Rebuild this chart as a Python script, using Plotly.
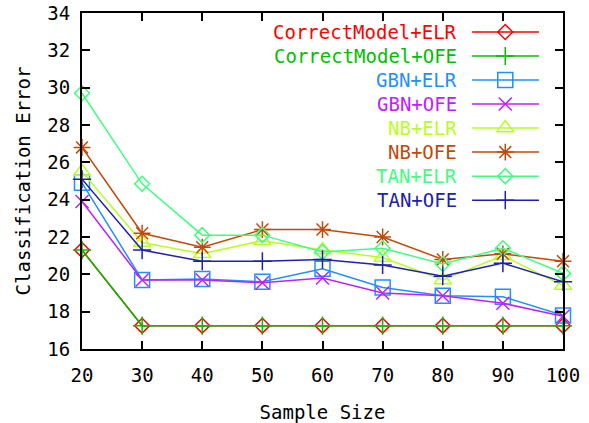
import plotly.graph_objects as go

sample_size = [20, 30, 40, 50, 60, 70, 80, 90, 100]

correct_elr = [21.3, 17.25, 17.25, 17.25, 17.25, 17.25, 17.25, 17.25, 17.25]
correct_ofe = [21.3, 17.25, 17.25, 17.25, 17.25, 17.25, 17.25, 17.25, 17.25]
gbn_elr = [24.9, 19.7, 19.75, 19.6, 20.3, 19.3, 18.85, 18.8, 17.8]
gbn_ofe = [23.9, 19.7, 19.7, 19.55, 19.8, 19.0, 18.85, 18.45, 17.75]
nb_elr = [25.5, 21.7, 21.1, 21.8, 21.3, 20.9, 19.7, 21.0, 19.4]
nb_ofe = [26.8, 22.2, 21.45, 22.4, 22.4, 22.0, 20.8, 21.1, 20.7]
tan_elr = [29.7, 24.85, 22.1, 22.1, 21.2, 21.4, 20.55, 21.4, 20.05]
tan_ofe = [25.1, 21.3, 20.7, 20.7, 20.8, 20.5, 19.9, 20.6, 19.6]

series_names = ["CorrectModel+ELR", "CorrectModel+OFE", "GBN+ELR", "GBN+OFE",
                "NB+ELR", "NB+OFE", "TAN+ELR", "TAN+OFE"]
series_values = [correct_elr, correct_ofe, gbn_elr, gbn_ofe,
                 nb_elr, nb_ofe, tan_elr, tan_ofe]
colors = ["#ff0000", "#00c000", "#1e90ff", "#c020ff",
          "#b8ff20", "#c04a08", "#40ff80", "#2020b0"]
symbols = ["diamond-open", "cross-thin-open", "square-open", "x-thin-open",
           "triangle-up-open", "asterisk-open", "diamond-open", "cross-thin-open"]
sizes = [11.5, 13, 15, 13, 15, 14, 11.5, 13]

x_ticks = [20, 30, 40, 50, 60, 70, 80, 90, 100]
y_ticks = [16, 18, 20, 22, 24, 26, 28, 30, 32, 34]

FONT = "DejaVu Sans Mono"

fig = go.Figure()

for name, vals, col, sym, sz in zip(series_names, series_values, colors, symbols, sizes):
    fig.add_trace(go.Scatter(
        x=sample_size, y=vals, name=name, mode="lines+markers",
        line=dict(color=col, width=1.5),
        marker=dict(symbol=sym, size=sz, color=col, line=dict(color=col, width=1.5)),
        cliponaxis=False, showlegend=False,
    ))

# custom legend (text left, sample right), on an overlay axis in paper-like units
leg_text_x = 0.784
leg_line = [0.811, 0.950]
leg_mark_x = 0.880
leg_top = 0.9435
leg_step = 0.0715
annotations = []
for i, (name, col, sym, sz) in enumerate(zip(series_names, colors, symbols, sizes)):
    yy = leg_top - i * leg_step
    fig.add_trace(go.Scatter(
        x=leg_line, y=[yy, yy], mode="lines", line=dict(color=col, width=1.5),
        xaxis="x2", yaxis="y2", showlegend=False, hoverinfo="skip",
    ))
    fig.add_trace(go.Scatter(
        x=[leg_mark_x], y=[yy], mode="markers",
        marker=dict(symbol=sym, size=sz, color=col, line=dict(color=col, width=1.5)),
        xaxis="x2", yaxis="y2", showlegend=False, hoverinfo="skip", cliponaxis=False,
    ))
    annotations.append(dict(
        x=leg_text_x, y=yy, xref="paper", yref="paper", xanchor="right", yanchor="middle",
        text=name, showarrow=False, font=dict(family=FONT, size=19, color=col),
    ))

fig.update_layout(
    width=589, height=423,
    margin=dict(l=82, r=26, t=13, b=74, autoexpand=False),
    paper_bgcolor="white", plot_bgcolor="white",
    font=dict(family=FONT, size=19, color="black"),
    annotations=annotations,
    xaxis=dict(
        range=[20, 100], tickvals=x_ticks, ticktext=[str(v) for v in x_ticks],
        ticks="inside", ticklen=8, tickwidth=1.5, tickcolor="black",
        showline=True, linecolor="black", linewidth=2, mirror="allticks",
        showgrid=False, zeroline=False, ticklabelstandoff=8, automargin=False,
        ticklabeloverflow="allow",
        title=dict(text="Sample Size", font=dict(family=FONT, size=19), standoff=22),
    ),
    yaxis=dict(
        range=[16, 34], tickvals=y_ticks, ticktext=[str(v) for v in y_ticks],
        ticks="inside", ticklen=8, tickwidth=1.5, tickcolor="black",
        showline=True, linecolor="black", linewidth=2, mirror="allticks",
        showgrid=False, zeroline=False, ticklabelstandoff=6, automargin=False,
        ticklabeloverflow="allow",
        title=dict(text="Classification Error", font=dict(family=FONT, size=19), standoff=12),
    ),
    xaxis2=dict(range=[0, 1], overlaying="x", visible=False, fixedrange=True),
    yaxis2=dict(range=[0, 1], overlaying="y", visible=False, fixedrange=True),
)

fig.write_html("out.html", config={"displayModeBar": False},
               post_script="document.body.style.margin='0px';")
